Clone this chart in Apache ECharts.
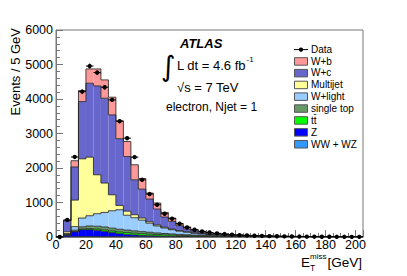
<!DOCTYPE html>
<html><head><meta charset="utf-8">
<script src="https://cdn.jsdelivr.net/npm/echarts@6/dist/echarts.min.js"></script>
<style>html,body{margin:0;padding:0;background:#fff}#c{width:407px;height:276px}</style>
</head><body><div id="c"></div>
<script>
// Bin lower edges (GeV), 5 GeV bins
const binLow = [0,5,10,15,20,25,30,35,40,45,50,55,60,65,70,75,80,85,90,95,100,105,110,115,120,125,130,135,140,145,150,155,160,165,170,175,180,185,190,195,200];
const dataCounts = [0,495,2320,4214,4955,4764,4341,3974,3357,2865,2315,1658,1244,935,674,530,385,278,211,162,130,105,85,68,55,45,37,30,25,21,18,15,12,10,9,8,7,6,5,4,4];
const wwwz = [0,3,8,12,14,14,13,12,11,10,9,8,7,6,5,5,4,4,3,3,2,2,2,2,1,1,1,1,1,1,1,1,1,1,1,0,0,0,0,0,0];
const zjets = [0,50,140,200,200,180,150,115,85,65,50,38,30,23,18,14,11,9,7,6,5,4,3,3,2,2,2,1,1,1,1,1,1,0,0,0,0,0,0,0,0];
const ttbar = [0,4,10,18,28,36,42,47,50,52,52,50,47,43,39,35,31,27,24,21,18,16,14,12,10,9,8,7,6,5,5,4,4,3,3,3,2,2,2,2,2];
const singleTop = [0,18,40,65,78,82,84,82,78,73,67,60,53,46,40,35,30,26,22,19,16,14,12,10,9,8,7,6,5,4,4,3,3,3,2,2,2,2,1,1,1];
const wlight = [0,25,102,255,296,362,423,505,566,430,380,334,263,202,158,121,94,74,54,41,32,26,21,17,14,11,9,8,6,5,4,4,3,3,2,2,2,1,1,1,1];
const multijet = [0,50,770,1716,1699,1129,851,463,125,120,87,60,40,30,25,20,15,10,8,6,5,4,3,3,2,2,2,1,1,1,1,1,1,0,0,0,0,0,0,0,0];
const wc = [0,321,960,1659,2142,2576,2460,2316,1935,1583,1013,839,660,460,294,222,142,81,57,39,30,24,19,15,12,10,8,6,5,4,3,3,2,2,2,1,1,1,1,1,1];
const wb = [0,10,180,318,414,492,530,512,516,434,435,307,173,174,133,98,58,58,36,30,22,17,13,10,8,6,5,4,3,3,2,2,2,1,1,1,1,1,1,0,0];

const FONT = 'Liberation Sans, Arial, Helvetica, sans-serif';
const BIN_W = binLow[1] - binLow[0];
const comps = [
  {name:'WW + WZ', vals:wwwz, color:'#3399ff'},
  {name:'Z', vals:zjets, color:'#0000ff'},
  {name:'t\u0074\u0304', vals:ttbar, color:'#00ff00'},
  {name:'single top', vals:singleTop, color:'#669966'},
  {name:'W+light', vals:wlight, color:'#99ccff'},
  {name:'Multijet', vals:multijet, color:'#ffff99'},
  {name:'W+c', vals:wc, color:'#6666cc'},
  {name:'W+b', vals:wb, color:'#ff9999'}
];

function textWidth(txt, size, weight, style) {
  const ctx = document.createElement('canvas').getContext('2d');
  ctx.font = (style || '') + ' ' + (weight || '') + ' ' + size + 'px ' + FONT;
  return ctx.measureText(txt).width;
}

const chart = echarts.init(document.getElementById('c'), null, {renderer:'svg'});
let cum = binLow.map(() => 0);
const series = [];
comps.forEach(c => {
  const items = binLow.map((x0, i) => [x0, x0 + BIN_W, cum[i], cum[i] + c.vals[i]]);
  items.forEach((it, i) => it.push(i > 0 ? items[i-1][3] : it[2]));
  cum = cum.map((v, i) => v + c.vals[i]);
  const color = c.color;
  series.push({
    type:'custom', name:c.name, data:items, clip:true, silent:true, animation:false, z:2,
    encode:{x:[0,1], y:[2,3]},
    renderItem:(params, api) => {
      const x0 = api.value(0), x1 = api.value(1), b = api.value(2), t = api.value(3), pt = api.value(4);
      const p0 = api.coord([x0, t]), p1 = api.coord([x1, b]), q = api.coord([x0, pt]);
      const ch = [];
      if (t > b) ch.push({type:'rect', z2:0, shape:{x:p0[0], y:p0[1], width:p1[0]-p0[0], height:p1[1]-p0[1]}, style:{fill:color}});
      ch.push({type:'polyline', z2:100, shape:{points:[[q[0],q[1]],[p0[0],p0[1]],[p1[0],p0[1]]]}, style:{stroke:'rgba(40,40,40,0.85)', lineWidth:1, fill:null}});
      return {type:'group', children:ch};
    }
  });
});

series.push({
  type:'custom', name:'Data', z:10, silent:true, animation:false, clip:false,
  data: binLow.map((x0, i) => [x0 + BIN_W/2, dataCounts[i], x0, x0 + BIN_W]),
  encode:{x:0, y:1},
  renderItem:(params, api) => {
    const cx = api.value(0), v = api.value(1), x0 = api.value(2), x1 = api.value(3);
    const e = Math.sqrt(v);
    const c = api.coord([cx, v]), l = api.coord([x0, v]), r = api.coord([x1, v]);
    const hi = api.coord([cx, v + e]), lo = api.coord([cx, Math.max(0, v - e)]);
    return {type:'group', children:[
      {type:'line', shape:{x1:l[0], y1:l[1], x2:r[0], y2:r[1]}, style:{stroke:'#000', lineWidth:1}},
      {type:'line', shape:{x1:hi[0], y1:hi[1], x2:lo[0], y2:lo[1]}, style:{stroke:'#000', lineWidth:1}},
      {type:'circle', shape:{cx:c[0], cy:c[1], r:2.2}, style:{fill:'#000'}}
    ]};
  }
});

// Legend + annotations as graphics
const graphic = [];
const legX = 294, legTextX = 311;
const legY = [61.2, 72.9, 84.7, 96.4, 108.3, 120.2, 132.1, 144.0];
graphic.push({type:'line', shape:{x1:legX, y1:49.6, x2:legX+14, y2:49.6}, style:{stroke:'#000', lineWidth:1}});
graphic.push({type:'circle', shape:{cx:legX+7, cy:49.6, r:2.2}, style:{fill:'#000'}});
graphic.push({type:'text', x:legTextX, y:49.6, style:{text:'Data', fontSize:10, fontFamily:FONT, fill:'#000', verticalAlign:'middle', align:'left'}});
comps.slice().reverse().forEach((c, i) => {
  graphic.push({type:'rect', shape:{x:legX+0.5, y:legY[i]-3.5, width:13, height:7.5}, style:{fill:c.color, stroke:'#555', lineWidth:1}});
  graphic.push({type:'text', x:legTextX, y:legY[i], style:{text:c.name, fontSize:10, fontFamily:FONT, fill:'#000', verticalAlign:'middle', align:'left'}});
});
// ATLAS label
graphic.push({type:'text', x:180, y:43, style:{text:'ATLAS', fontSize:13, fontWeight:'bold', fontStyle:'italic', fontFamily:FONT, fill:'#000', verticalAlign:'middle'}});
graphic.push({type:'text', x:161, y:66, style:{text:'\u222B', fontSize:28, fontFamily:'DejaVu Sans', fill:'#000', verticalAlign:'middle'}});
const lumiTxt = 'L dt = 4.6 fb';
graphic.push({type:'text', x:177, y:65, style:{text:lumiTxt, fontSize:13, fontFamily:FONT, fill:'#000', verticalAlign:'middle'}});
graphic.push({type:'text', x:177 + textWidth(lumiTxt, 13) + 0.5, y:59, style:{text:'-1', fontSize:8, fontFamily:FONT, fill:'#000', verticalAlign:'middle'}});
graphic.push({type:'text', x:177, y:87.5, style:{text:'\u221As = 7 TeV', fontSize:13, fontFamily:FONT, fill:'#000', verticalAlign:'middle'}});
graphic.push({type:'text', x:166, y:106.5, style:{text:'electron, Njet = 1', fontSize:12, fontFamily:FONT, fill:'#000', verticalAlign:'middle'}});
// axis titles
graphic.push({type:'text', x:15, y:28, rotation:Math.PI/2, style:{text:'Events / 5 GeV', fontSize:13, fontFamily:FONT, fill:'#000', align:'right', verticalAlign:'middle'}});
graphic.push({type:'text', x:301, y:262.5, style:{text:'E', fontSize:13.5, fontFamily:FONT, fill:'#000', verticalAlign:'middle'}});
graphic.push({type:'text', x:310, y:256.5, style:{text:'miss', fontSize:8, fontFamily:FONT, fill:'#000', verticalAlign:'middle'}});
graphic.push({type:'text', x:310, y:267.5, style:{text:'T', fontSize:8.5, fontFamily:FONT, fill:'#000', verticalAlign:'middle'}});
graphic.push({type:'text', x:362, y:262.5, style:{text:'[GeV]', fontSize:13.5, fontFamily:FONT, fill:'#000', align:'right', verticalAlign:'middle'}});

const axisCol = '#777';
chart.setOption({
  animation:false,
  grid:{left:56, right:44, top:30, bottom:39, show:true, borderColor:axisCol, borderWidth:1, backgroundColor:'transparent'},
  xAxis:{type:'value', min:0, max:205, interval:20,
    axisLine:{show:true, onZero:false, lineStyle:{color:axisCol}},
    axisTick:{show:true, inside:true, length:7, lineStyle:{color:axisCol}},
    minorTick:{show:true, splitNumber:4, length:4, lineStyle:{color:axisCol}},
    splitLine:{show:false},
    axisLabel:{showMaxLabel:false, fontSize:12.5, color:'#000', margin:1, fontFamily:FONT, formatter:v => String(v)}},
  yAxis:{type:'value', min:0, max:6000, interval:1000,
    axisLine:{show:true, onZero:false, lineStyle:{color:axisCol}},
    axisTick:{show:true, inside:true, length:7, lineStyle:{color:axisCol}},
    minorTick:{show:true, splitNumber:5, length:4, lineStyle:{color:axisCol}},
    splitLine:{show:false},
    axisLabel:{fontSize:12.5, color:'#000', margin:3, fontFamily:FONT, formatter:v => String(v)}},
  series:series,
  graphic:graphic
});
</script>
</body></html>
